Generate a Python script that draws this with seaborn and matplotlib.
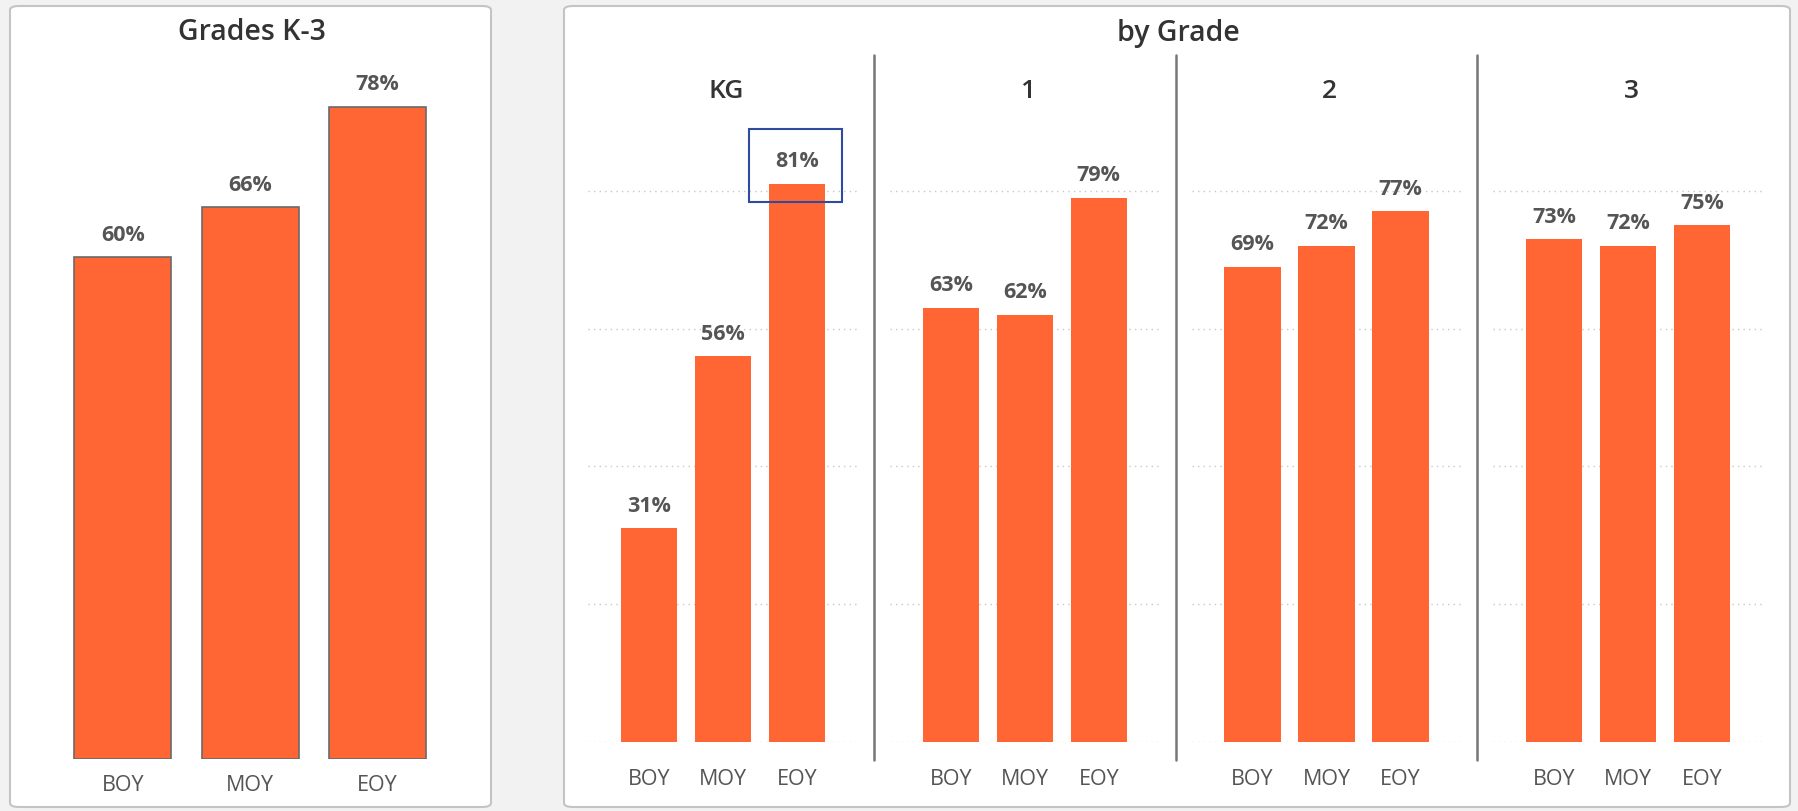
import pandas as pd
import matplotlib.pyplot as plt
import seaborn as sns
from matplotlib.patches import FancyBboxPatch, Rectangle
from matplotlib.lines import Line2D

# dados
periodos = ['BOY', 'MOY', 'EOY']
total_k3 = [60, 66, 78]
series = ['KG', '1', '2', '3']
valores_kg = [31, 56, 81]
valores_g1 = [63, 62, 79]
valores_g2 = [69, 72, 77]
valores_g3 = [73, 72, 75]
grid_ticks = [0, 20, 40, 60, 80]

LARANJA = '#FF6633'
CINZA_TXT = '#555555'
ESCURO = '#333333'

sns.set_theme(style='white')
plt.rcParams['font.family'] = ['Open Sans', 'DejaVu Sans']

W, H = 1799, 811
fig = plt.figure(figsize=(W / 100, H / 100), dpi=100)
fig.patch.set_facecolor('#f2f2f2')


def eixo_px(l, t, w, h):
    # cria eixos usando coordenadas em pixels (origem no topo)
    ax = fig.add_axes([l / W, 1 - (t + h) / H, w / W, h / H])
    ax.set_zorder(3)
    return ax


def texto_px(x, y, s, **kw):
    fig.text(x / W, 1 - y / H, s, ha='center', va='center', **kw)


# paineis de fundo
for (x0, x1) in [(10, 491), (564, 1790)]:
    fig.patches.append(FancyBboxPatch((x0 / W, 4 / H), (x1 - x0) / W, (805 - 4) / H,
                                      boxstyle='round,pad=0,rounding_size=0.005',
                                      transform=fig.transFigure, facecolor='white',
                                      edgecolor='#c4c4c4', linewidth=1.5, zorder=-1))


def desenhar(ax, valores, ymax, borda, pad_px):
    df = pd.DataFrame({'Periodo': periodos, 'Valor': valores})
    sns.barplot(data=df, x='Periodo', y='Valor', color=LARANJA, saturation=1,
                width=0.76, ax=ax, edgecolor=borda, linewidth=1.2 if borda else 0)
    ax.set_ylim(0, ymax)
    ax.set_facecolor('none')
    ax.set_xlabel('')
    ax.set_ylabel('')
    ax.set_yticks([])
    ax.tick_params(axis='x', length=0, labelsize=15.5, labelcolor=CINZA_TXT, pad=pad_px)
    for s in ax.spines.values():
        s.set_visible(False)
    for i, v in enumerate(valores):
        ax.annotate(f'{v}%', (i, v), xytext=(0, 22 * 0.72), textcoords='offset points',
                    ha='center', va='center', fontsize=15.5, fontweight='bold',
                    color=CINZA_TXT)


# painel esquerdo: Grades K-3
ax_esq = eixo_px(46.4, 759 - 85 * 8.36, 3.2 * 127.4, 85 * 8.36)
desenhar(ax_esq, total_k3, 85, '#6a6a6a', 11.5)
ax_esq.set_xlim(-0.6, 2.6)
texto_px(252, 33, 'Grades K-3', fontsize=20.5, fontweight='semibold', color=ESCURO)

# painel direito: by Grade
texto_px(1178, 33, 'by Grade', fontsize=20.5, fontweight='semibold', color=ESCURO)
ppct = 6.89
ymax = 96
for k, (nome, vals) in enumerate(zip(series, [valores_kg, valores_g1, valores_g2, valores_g3])):
    centro0 = 649 + k * 301.7
    esq = centro0 - 0.82 * 74
    ax = eixo_px(esq, 742 - ymax * ppct, 3.67 * 74, ymax * ppct)
    for g in grid_ticks:
        ax.axhline(g, color='#c8c8c8', linestyle=(0, (1, 3)), linewidth=1, zorder=0)
    desenhar(ax, vals, ymax, None, 19.5)
    ax.set_xlim(-0.82, 2.85)
    texto_px(centro0 + 77, 92, nome, fontsize=19, fontweight='semibold', color=ESCURO)
    if k < 3:
        xs = centro0 + 74 + 151
        fig.add_artist(Line2D([xs / W, xs / W], [1 - 55 / H, 1 - 760 / H],
                              color='#777777', linewidth=1.8))

# destaque azul em volta do 81%
fig.patches.append(Rectangle((749 / W, 1 - 202 / H), 93 / W, 73 / H,
                             transform=fig.transFigure, fill=False,
                             edgecolor='#2f4c9c', linewidth=1.5, zorder=5))

fig.savefig('out.png', dpi=100, facecolor=fig.get_facecolor())
